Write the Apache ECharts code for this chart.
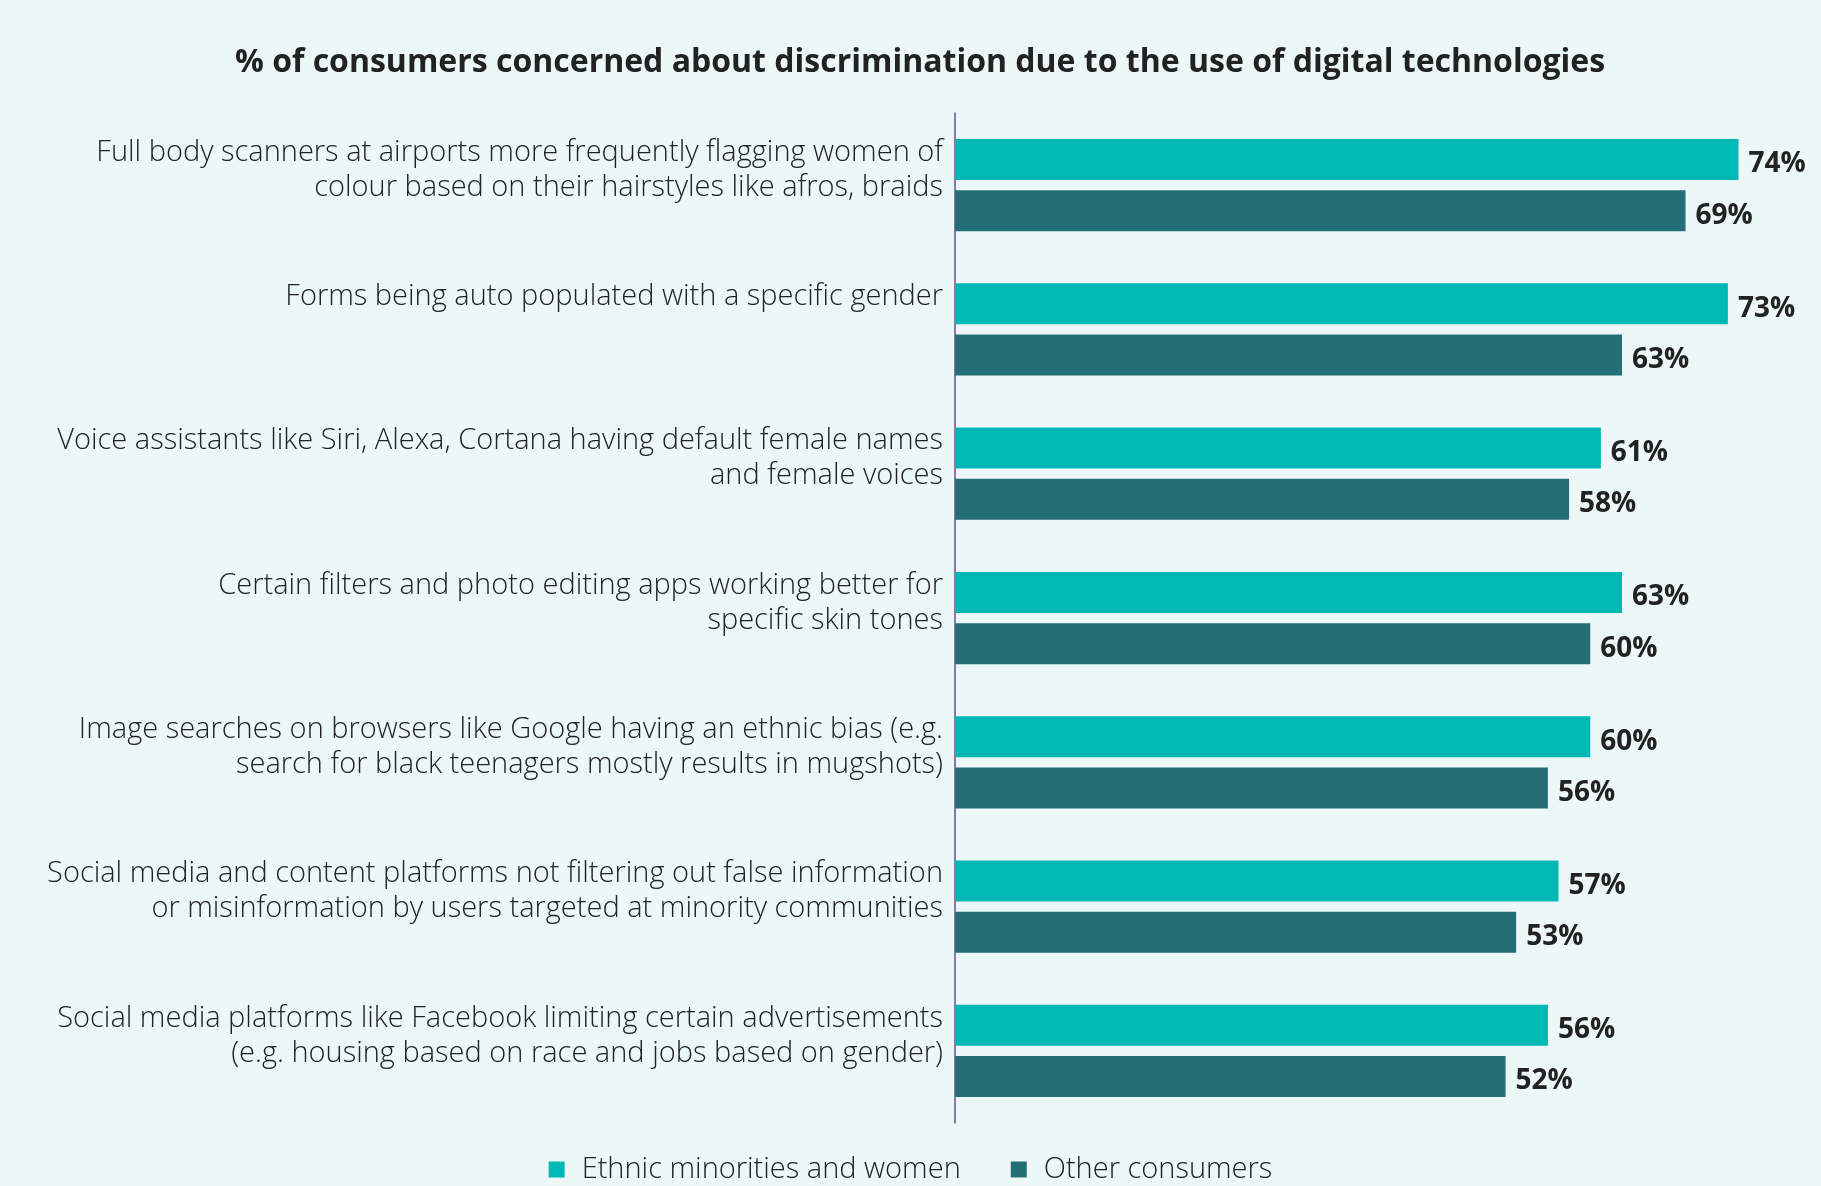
<!DOCTYPE html>
<html>
<head>
<meta charset="utf-8">
<script src="https://cdn.jsdelivr.net/npm/echarts@6/dist/echarts.min.js"></script>
<style>
    html, body { margin: 0; padding: 0; background: #ecf8f7; }
    #chart_01 { width: 1821px; height: 1186px; }
</style>
</head>
<body>
<div id="chart_01"></div>
<script>
var categories = [
    'Full body scanners at airports more frequently flagging women of\ncolour based on their hairstyles like afros, braids',
    'Forms being auto populated with a specific gender',
    'Voice assistants like Siri, Alexa, Cortana having default female names\nand female voices',
    'Certain filters and photo editing apps working better for\nspecific skin tones',
    'Image searches on browsers like Google having an ethnic bias (e.g.\nsearch for black teenagers mostly results in mugshots)',
    'Social media and content platforms not filtering out false information\nor misinformation by users targeted at minority communities',
    'Social media platforms like Facebook limiting certain advertisements\n(e.g. housing based on race and jobs based on gender)'
];
var minoritiesWomen = [74, 73, 61, 63, 60, 57, 56];
var otherConsumers = [69, 63, 58, 60, 56, 53, 52];

var chart1;
var labelFont = '"Open Sans", "Noto Sans", sans-serif';

function setChart1() {
    var dom = document.getElementById("chart_01");
    chart1 = echarts.init(dom);
    var valueLabel = {
        show: true,
        position: 'right',
        distance: 10,
        offset: [0, 5],
        formatter: '{c}%',
        color: '#222222',
        fontFamily: labelFont,
        fontWeight: 'bold',
        fontSize: 28
    };
    var option = {
        backgroundColor: '#ecf8f7',
        animation: false,
        title: {
            text: '% of consumers concerned about discrimination due to the use of digital technologies',
            left: 230,
            top: 42,
            textStyle: {
                color: '#222222',
                fontFamily: labelFont,
                fontWeight: 'bold',
                fontSize: 32
            }
        },
        legend: {
            top: 1150,
            left: 'center',
            itemWidth: 16,
            itemHeight: 16,
            itemGap: 50,
            icon: 'rect',
            textStyle: {
                color: '#222222',
                fontFamily: labelFont,
                fontWeight: 300,
                fontSize: 29,
                padding: [0, 0, 0, 12]
            },
            data: ['Ethnic minorities and women', 'Other consumers']
        },
        grid: {
            left: 955,
            right: 19,
            top: 113,
            bottom: 63,
            containLabel: false
        },
        xAxis: {
            type: 'value',
            min: 0,
            max: 80,
            show: false
        },
        yAxis: {
            type: 'category',
            inverse: true,
            data: categories,
            axisLine: {
                show: true,
                lineStyle: { color: '#6a4c93', width: 1.5 }
            },
            axisTick: { show: false },
            axisLabel: {
                margin: 12,
                align: 'right',
                verticalAlign: 'middle',
                lineHeight: 35,
                color: '#222222',
                fontFamily: labelFont,
                fontWeight: 300,
                fontSize: 29,
                rich: {
                    gap: { lineHeight: 30, fontSize: 10 }
                },
                // labels sit level with the top bar, so pad every label below
                formatter: function (value) {
                    var text = value.indexOf('\n') < 0 ? value + '\n ' : value;
                    return text + '\n{gap| }';
                }
            }
        },
        series: [
            {
                name: 'Ethnic minorities and women',
                type: 'bar',
                data: minoritiesWomen,
                barWidth: 41,
                barGap: '25%',
                itemStyle: { color: '#00b9b4' },
                label: valueLabel
            },
            {
                name: 'Other consumers',
                type: 'bar',
                data: otherConsumers,
                barWidth: 41,
                barGap: '25%',
                itemStyle: { color: '#246e77' },
                label: valueLabel
            }
        ]
    };
    chart1.setOption(option, true);
}

window.onresize = function () {
    chart1 && chart1.resize();
}
setChart1();
</script>
</body>
</html>
